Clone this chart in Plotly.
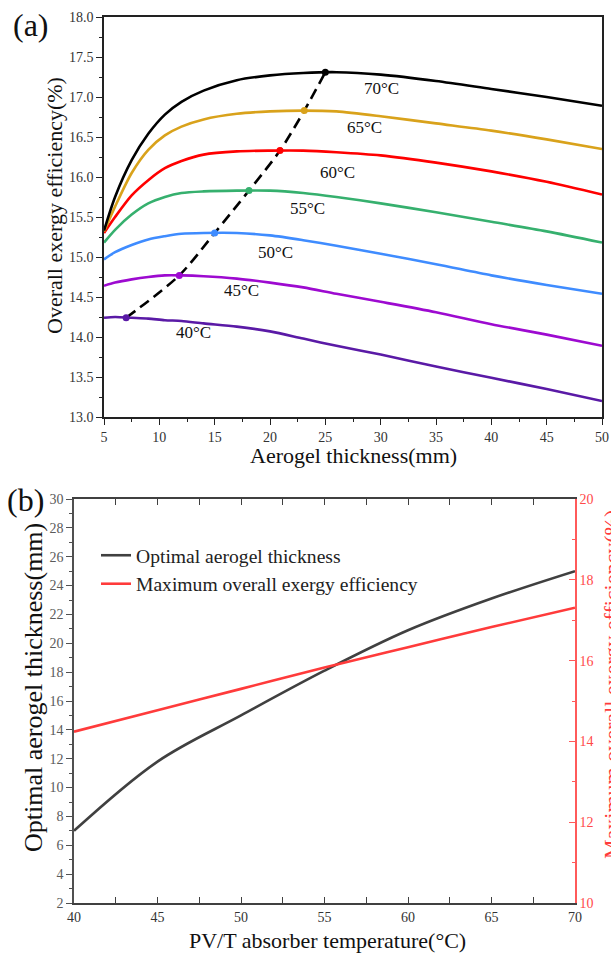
import plotly.graph_objects as go

# ---- (a) overall exergy efficiency vs aerogel thickness ----
thickness_mm = [5, 6, 7.5, 9, 10.5, 12, 14, 17, 20, 23, 26, 30, 35, 40, 45, 50]

eff_40 = [14.24, 14.25, 14.24, 14.23, 14.21, 14.20, 14.17, 14.13, 14.07, 13.98, 13.89, 13.78, 13.63, 13.49, 13.35, 13.20]
eff_45 = [14.64, 14.68, 14.72, 14.75, 14.77, 14.77, 14.76, 14.73, 14.68, 14.62, 14.54, 14.44, 14.31, 14.16, 14.03, 13.89]
eff_50 = [14.97, 15.06, 15.15, 15.22, 15.26, 15.29, 15.30, 15.30, 15.27, 15.21, 15.14, 15.04, 14.91, 14.77, 14.65, 14.54]
eff_55 = [15.18, 15.34, 15.53, 15.67, 15.75, 15.80, 15.82, 15.83, 15.83, 15.80, 15.75, 15.67, 15.56, 15.44, 15.32, 15.18]
eff_60 = [15.30, 15.50, 15.77, 15.96, 16.11, 16.20, 16.28, 16.32, 16.33, 16.33, 16.31, 16.27, 16.18, 16.07, 15.94, 15.78]
eff_65 = [15.32, 15.63, 16.05, 16.34, 16.52, 16.63, 16.72, 16.79, 16.82, 16.83, 16.82, 16.76, 16.67, 16.58, 16.47, 16.35]
eff_70 = [15.33, 15.75, 16.21, 16.54, 16.78, 16.94, 17.08, 17.21, 17.27, 17.30, 17.31, 17.28, 17.20, 17.10, 17.00, 16.89]

temps_c = [40, 45, 50, 55, 60, 65, 70]
temp_labels = [f"{t}\u00b0C" for t in temps_c]
curve_colors = ["#5a1aa6", "#9d0ad0", "#3f8cff", "#36b06e", "#ff0000", "#d9a21b", "#000000"]

# optimum of each curve (thickness, efficiency)
opt_thickness = [7.0, 11.8, 15.0, 18.1, 20.9, 23.1, 25.0]
max_eff = [14.24, 14.77, 15.30, 15.83, 16.33, 16.83, 17.31]

# curve label anchors (data coordinates)
label_x = [13.1, 17.4, 20.5, 23.4, 26.1, 28.5, 30.1]
label_y = [14.06, 14.58, 15.05, 15.60, 16.06, 16.62, 17.11]

series = [eff_40, eff_45, eff_50, eff_55, eff_60, eff_65, eff_70]

FONT = "Liberation Serif"
W, H = 611, 958


def px_x(p):
    return p / W


def px_y(p):
    return 1 - p / H


fig = go.Figure()

for vals, col in zip(series, curve_colors):
    fig.add_trace(go.Scatter(
        x=thickness_mm, y=vals, mode="lines",
        line=dict(color=col, width=2.6, shape="spline", smoothing=0.8),
        showlegend=False, xaxis="x", yaxis="y", hoverinfo="skip"))

fig.add_trace(go.Scatter(
    x=opt_thickness, y=max_eff, mode="lines",
    line=dict(color="#000000", width=2.6, dash="11px,6px", shape="spline", smoothing=0.8),
    showlegend=False, xaxis="x", yaxis="y", hoverinfo="skip"))

fig.add_trace(go.Scatter(
    x=opt_thickness, y=max_eff, mode="markers",
    marker=dict(color=curve_colors, size=7),
    showlegend=False, xaxis="x", yaxis="y", hoverinfo="skip"))

for lx, ly, txt in zip(label_x, label_y, temp_labels):
    fig.add_annotation(x=lx, y=ly, xref="x", yref="y", text=txt, showarrow=False,
                       font=dict(family=FONT, size=17, color="#111111"))

# ---- (b) optimum thickness and maximum efficiency vs absorber temperature ----
fig.add_trace(go.Scatter(
    x=temps_c, y=opt_thickness, mode="lines", name="Optimal aerogel thickness",
    line=dict(color="#404040", width=2.6, shape="spline"),
    xaxis="x2", yaxis="y2", hoverinfo="skip"))
fig.add_trace(go.Scatter(
    x=temps_c, y=max_eff, mode="lines", name="Maximum overall exergy efficiency",
    line=dict(color="#ff3b3b", width=2.6, shape="spline"),
    xaxis="x2", yaxis="y3", hoverinfo="skip"))

top_x = [px_x(104), px_x(602)]
top_y = [px_y(417), px_y(17)]
bot_x = [px_x(74), px_x(575)]
bot_y = [px_y(903), px_y(499)]

tick_font = dict(family=FONT, size=14, color="#333333")

fig.update_layout(
    template="none",
    width=W, height=H,
    margin=dict(l=0, r=0, t=0, b=0, autoexpand=False),
    paper_bgcolor="white", plot_bgcolor="white",
    font=dict(family=FONT),
    xaxis=dict(domain=top_x, anchor="y", range=[5, 50], dtick=5, tick0=5, automargin=False,
               showgrid=False, zeroline=False,
               showline=True, linecolor="#222222", linewidth=1.5, mirror=True,
               ticks="outside", ticklen=6, tickwidth=1.3, tickcolor="#222222",
               minor=dict(ticks="outside", ticklen=3, dtick=2.5, tick0=5, tickcolor="#222222", showgrid=False),
               tickfont=tick_font),
    yaxis=dict(domain=top_y, anchor="x", range=[13, 18], dtick=0.5, tick0=13, tickformat=".1f",
               automargin=False, showgrid=False, zeroline=False,
               showline=True, linecolor="#222222", linewidth=1.5, mirror=True,
               ticks="outside", ticklen=6, tickwidth=1.3, tickcolor="#222222",
               minor=dict(ticks="outside", ticklen=3, dtick=0.25, tick0=13, tickcolor="#222222", showgrid=False),
               tickfont=tick_font),
    xaxis2=dict(domain=bot_x, anchor="y2", range=[40, 70], dtick=5, tick0=40, automargin=False,
                showgrid=False, zeroline=False,
                showline=True, linecolor="#404040", linewidth=2.2, mirror="allticks",
                ticks="inside", ticklen=6, tickwidth=1.3, tickcolor="#404040",
                minor=dict(ticks="inside", ticklen=3, dtick=2.5, tick0=40, tickcolor="#404040", showgrid=False),
                tickfont=dict(family=FONT, size=14, color="#333333")),
    yaxis2=dict(domain=bot_y, anchor="x2", range=[2, 30], dtick=2, tick0=2, automargin=False,
                showgrid=False, zeroline=False,
                showline=True, linecolor="#505050", linewidth=1.6,
                ticks="outside", ticklen=6, tickwidth=1.3, tickcolor="#505050",
                minor=dict(ticks="outside", ticklen=3, dtick=1, tick0=2, tickcolor="#505050", showgrid=False),
                tickfont=dict(family=FONT, size=14, color="#5a5a5a")),
    yaxis3=dict(anchor="x2", overlaying="y2", side="right", range=[10, 20], dtick=2, tick0=10,
                automargin=False, showgrid=False, zeroline=False,
                showline=True, linecolor="#ff5a5a", linewidth=1.6,
                ticks="inside", ticklen=6, tickwidth=1.3, tickcolor="#ff5a5a",
                minor=dict(ticks="inside", ticklen=3, dtick=1, tick0=10, tickcolor="#ff5a5a", showgrid=False),
                tickfont=dict(family=FONT, size=14, color="#ff4a4a")),
    legend=dict(x=px_x(96), y=px_y(536), xanchor="left", yanchor="top",
                bgcolor="rgba(0,0,0,0)", borderwidth=0,
                font=dict(family=FONT, size=19.6, color="#222222"),
                itemwidth=30, tracegroupgap=0),
)

# axis titles and panel tags
titles = [
    ("Aerogel thickness(mm)", 353, 455, 0, 22, "#111111"),
    ("Overall exergy efficiency(%)", 54, 206, -90, 22, "#111111"),
    ("PV/T absorber temperature(\u00b0C)", 327, 940, 0, 22, "#111111"),
    ("Optimal aerogel thickness(mm)", 33, 688, -90, 26, "#111111"),
    ("Maximum overall exergy efficiency(%)", 611, 685, -90, 22, "#ff3b3b"),
    ("(a)", 31, 25, 0, 32, "#111111"),
    ("(b)", 25, 500, 0, 32, "#111111"),
]
for txt, cx, cy, ang, size, col in titles:
    fig.add_annotation(x=px_x(cx), y=px_y(cy), xref="paper", yref="paper", text=txt,
                       textangle=ang, showarrow=False, xanchor="center", yanchor="middle",
                       font=dict(family=FONT, size=size, color=col))

fig.write_html("out.html")
